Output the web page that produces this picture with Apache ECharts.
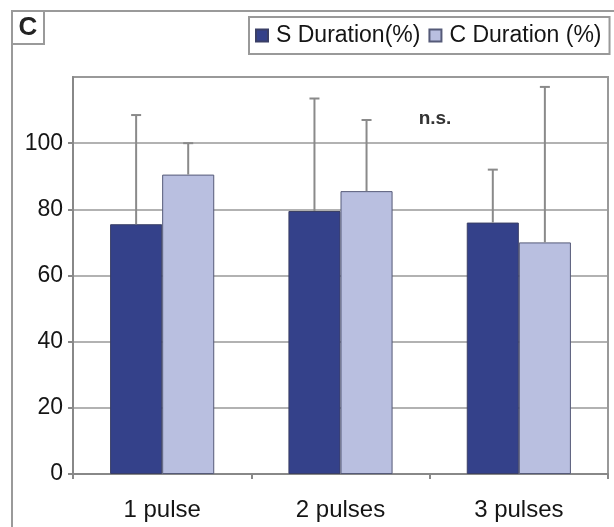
<!DOCTYPE html>
<html>
<head>
<meta charset="utf-8">
<script src="https://cdn.jsdelivr.net/npm/echarts@6/dist/echarts.min.js"></script>
<style>
html,body{margin:0;padding:0;background:#fff;}
#chart{width:614px;height:527px;}
</style>
</head>
<body>
<div id="chart"></div>
<script>
const categories = ['1 pulse', '2 pulses', '3 pulses'];
const sDuration = [75.5, 79.5, 76];
const cDuration = [90.5, 85.5, 70];
const sSD = [33, 34, 16];
const cSD = [9.5, 21.5, 47];
const yTickValues = [0, 20, 40, 60, 80, 100];
const seriesNames = ['S Duration(%)', 'C Duration (%)'];

const CAT_GAP = 0.416;
const chart = echarts.init(document.getElementById('chart'));

function errorSeries(name, values, sds, side) {
  return {
    type: 'custom',
    name: name + ' SD',
    coordinateSystem: 'cartesian2d',
    data: values.map((v, i) => [i, v, v + sds[i]]),
    encode: { x: 0, y: 2 },
    z: 5,
    silent: true,
    renderItem: function (params, api) {
      const base = api.coord([api.value(0), api.value(1)]);
      const top = api.coord([api.value(0), api.value(2)]);
      const bw = api.size([1, 0])[0] * (1 - CAT_GAP) / 2;
      const x = base[0] + side * bw / 2;
      const style = { stroke: '#8a8a8a', lineWidth: 2 };
      return {
        type: 'group',
        children: [
          { type: 'line', shape: { x1: x, y1: base[1], x2: x, y2: top[1] }, style: style },
          { type: 'line', shape: { x1: x - 5, y1: top[1], x2: x + 5, y2: top[1] }, style: style }
        ]
      };
    }
  };
}

const option = {
  animation: false,
  backgroundColor: '#ffffff',
  textStyle: { fontFamily: 'Liberation Sans, Arial, sans-serif' },
  grid: { left: 73, right: 6, top: 77, bottom: 53, show: true, borderColor: '#999', borderWidth: 2 },
  legend: {
    data: seriesNames,
    left: 249, top: 17,
    padding: [7, 8, 7, 6],
    itemGap: 8,
    itemWidth: 12, itemHeight: 12,
    icon: 'rect',
    borderColor: '#999', borderWidth: 2,
    selectedMode: false,
    textStyle: { fontSize: 23, color: '#151515', padding: [0, 0, 0, 3] }
  },
  xAxis: {
    type: 'category',
    data: categories,
    axisLine: { lineStyle: { color: '#888', width: 2 } },
    axisTick: { show: true, length: 5, lineStyle: { color: '#888', width: 2 } },
    axisLabel: { fontSize: 24, color: '#151515', margin: 24 }
  },
  yAxis: {
    type: 'value',
    min: 0, max: 120, interval: 20,
    axisLine: { show: true, lineStyle: { color: '#888', width: 2 } },
    axisTick: { show: true, length: 5, customValues: yTickValues, lineStyle: { color: '#888', width: 2 } },
    axisLabel: { fontSize: 23, color: '#151515', margin: 10, customValues: yTickValues },
    splitLine: { show: true, lineStyle: { color: '#999', width: 1.5 } }
  },
  series: [
    {
      name: seriesNames[0], type: 'bar', data: sDuration,
      barGap: '0%', barCategoryGap: (CAT_GAP * 100) + '%',
      itemStyle: { color: '#34418a', borderColor: '#3a3f66', borderWidth: 1 }
    },
    {
      name: seriesNames[1], type: 'bar', data: cDuration,
      barGap: '0%', barCategoryGap: (CAT_GAP * 100) + '%',
      itemStyle: { color: '#b9bfe0', borderColor: '#555a78', borderWidth: 1 }
    },
    errorSeries(seriesNames[0], sDuration, sSD, -1),
    errorSeries(seriesNames[1], cDuration, cSD, 1)
  ],
  graphic: [
    { type: 'line', shape: { x1: 12, y1: 11, x2: 614, y2: 11 }, style: { stroke: '#9a9a9a', lineWidth: 2 } },
    { type: 'line', shape: { x1: 12, y1: 11, x2: 12, y2: 527 }, style: { stroke: '#9a9a9a', lineWidth: 2 } },
    { type: 'rect', shape: { x: 12, y: 11, width: 32, height: 33 }, style: { fill: '#fff', stroke: '#9a9a9a', lineWidth: 2 } },
    { type: 'text', x: 28, y: 28, style: { text: 'C', fontSize: 26, fontWeight: 'bold', fill: '#222', align: 'center', verticalAlign: 'middle', fontFamily: 'Liberation Sans, Arial, sans-serif' } },
    { type: 'text', x: 435, y: 119, style: { text: 'n.s.', fontSize: 19, fontWeight: 'bold', fill: '#333', align: 'center', verticalAlign: 'middle', fontFamily: 'Liberation Sans, Arial, sans-serif' } }
  ]
};
chart.setOption(option);
</script>
</body>
</html>
